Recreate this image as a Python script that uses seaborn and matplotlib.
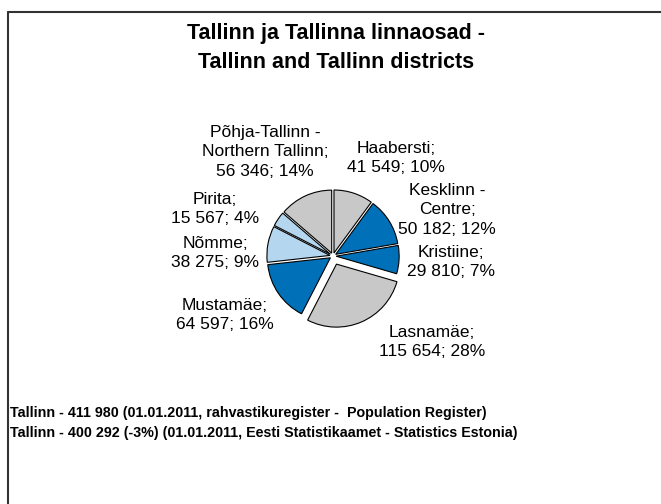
import numpy as np
import matplotlib.pyplot as plt
import seaborn as sns
from matplotlib.lines import Line2D

# data
districts = ["Haabersti", "Kesklinn -\nCentre", "Kristiine", "Lasnamäe",
             "Mustamäe", "Nõmme", "Pirita", "Põhja-Tallinn -\nNorthern Tallinn"]
population = [41549, 50182, 29810, 115654, 64597, 38275, 15567, 56346]
title_lines = ["Tallinn ja Tallinna linnaosad -", "Tallinn and Tallinn districts"]
notes = ["Tallinn - 411 980 (01.01.2011, rahvastikuregister -  Population Register)",
         "Tallinn - 400 292 (-3%) (01.01.2011, Eesti Statistikaamet - Statistics Estonia)"]

# styling
colors = ["#c8c8c8", "#0070b8", "#0070b8", "#c8c8c8",
          "#0070b8", "#b4d6ee", "#b4d6ee", "#c8c8c8"]
explode = [0.05, 0.05, 0.05, 0.14, 0.05, 0.05, 0.05, 0.05]
# label centres in pixels relative to pie centre (x right, y down)
label_px = [(63, -98), (114, -46), (118, 6), (99, 86),
            (-108, 59), (-118, -3), (-118, -47), (-68, -104)]

sns.set_theme(style="white")
plt.rcParams['font.family'] = ['Liberation Sans', 'DejaVu Sans']
plt.rcParams['text.color'] = 'black'

W, H = 661, 504
fig = plt.figure(figsize=(W / 100, H / 100), dpi=100)

R = 63.0          # pie radius in px
cx, cy = 333, 256  # pie centre in px (from top-left)
S = 400
L = S / (2 * R)
ax = fig.add_axes([(cx - S / 2) / W, (H - cy - S / 2) / H, S / W, S / H])
ax.pie(population, colors=colors, explode=explode, startangle=90,
       counterclock=False,
       wedgeprops=dict(edgecolor="black", linewidth=0.8))
ax.set_xlim(-L, L)
ax.set_ylim(-L, L)
ax.axis("off")

total = sum(population)
for name, val, (dx, dy) in zip(districts, population, label_px):
    txt = "{};\n{}; {:.0f}%".format(name, f"{val:,}".replace(",", " "),
                                    100 * val / total)
    ax.text(dx / R, -dy / R, txt, ha="center", va="center",
            multialignment="center", fontsize=12.5, linespacing=1.38)

fig.text(336 / W, 1 - 48 / H, "\n".join(title_lines), ha="center", va="center",
         fontsize=15.5, fontweight="bold", linespacing=1.45)
for i, line in enumerate(notes):
    fig.text(10 / W, 1 - (413 + 20 * i) / H, line, ha="left", va="center",
             fontsize=10.3, fontweight="bold")

# frame (top and left edges visible)
fig.add_artist(Line2D([8 / W, 8 / W], [1 - 12 / H, 0], transform=fig.transFigure,
                      color="#333333", linewidth=1.5))
fig.add_artist(Line2D([8 / W, 1], [1 - 12 / H, 1 - 12 / H], transform=fig.transFigure,
                      color="#333333", linewidth=1.5))

fig.savefig("out.png", dpi=100)
